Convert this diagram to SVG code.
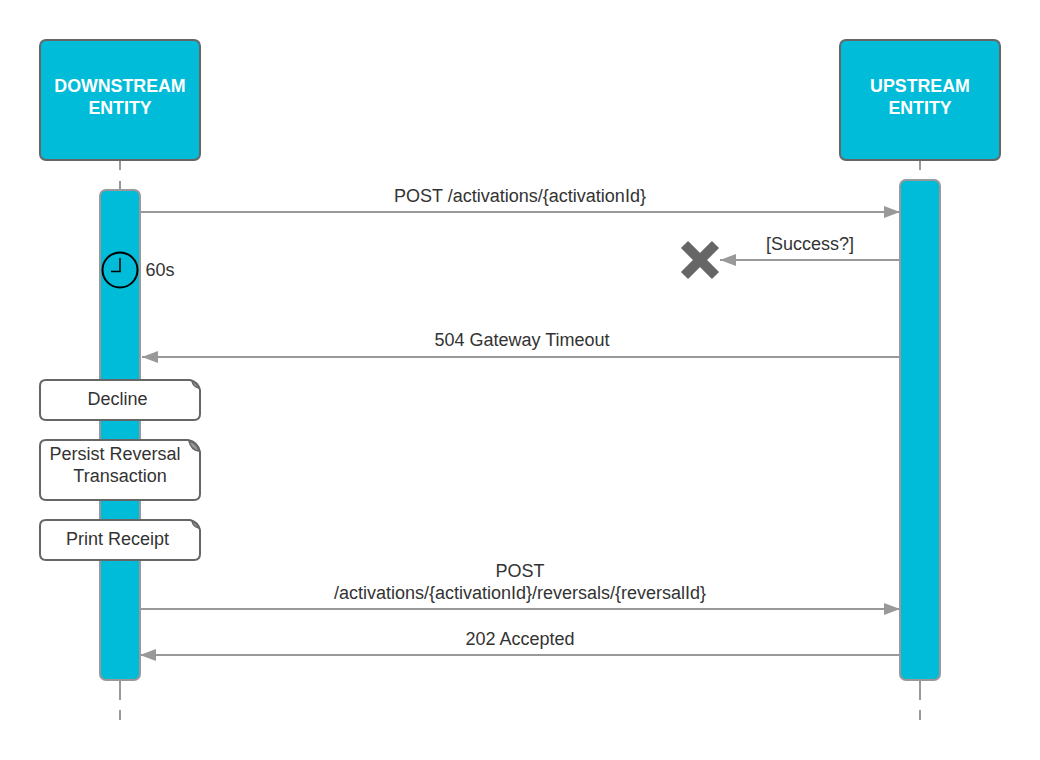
<svg xmlns="http://www.w3.org/2000/svg" width="1040" height="760" viewBox="0 0 1040 760">
<style>
text{font-family:"Liberation Sans",Arial,sans-serif;font-size:18px;fill:#333;text-anchor:middle}
.head{fill:#00bcd8;stroke:#666;stroke-width:2}
.hl{font-weight:bold;font-size:17.800px;fill:#fff}
.act{fill:#00bcd8;stroke:#999;stroke-width:2}
.note{fill:#fff;stroke:#666;stroke-width:2}
.fold{fill:#999;stroke:#666;stroke-width:1.500}
.life{stroke:#999;stroke-width:2;fill:none}
.msg{stroke:#999;stroke-width:2;fill:none}
.ah{fill:#999;stroke:none}
</style>
<defs>
<marker id="a" markerUnits="userSpaceOnUse" markerWidth="18" markerHeight="14" refX="16" refY="7" orient="auto"><path class="ah" d="M0 1L16 7L0 13z"/></marker>
</defs>
<g id="connectors">
<path class="life" d="M120 161V170M120 181V190M120 681V700M120 710V720"/>
<path class="life" d="M920 161V170M920 681V700M920 710V720"/>
<path class="msg" d="M141 212H900" marker-end="url(#a)"/>
<path class="msg" d="M899 260H720" marker-end="url(#a)"/>
<path class="msg" d="M899 357H142" marker-end="url(#a)"/>
<path class="msg" d="M141 609H900" marker-end="url(#a)"/>
<path class="msg" d="M899 655H140" marker-end="url(#a)"/>
</g>
<g id="downstream-entity"><rect class="head" x="40" y="40" width="160" height="120" rx="6"/><text class="hl" x="120" y="92">DOWNSTREAM</text><text class="hl" x="120" y="113.500">ENTITY</text></g>
<g id="upstream-entity"><rect class="head" x="840" y="40" width="160" height="120" rx="6"/><text class="hl" x="920" y="92">UPSTREAM</text><text class="hl" x="920" y="113.500">ENTITY</text></g>
<g id="downstream-activation"><rect class="act" x="100" y="190" width="40" height="490" rx="6"/></g>
<g id="upstream-activation"><rect class="act" x="900" y="180" width="40" height="500" rx="6"/></g>
<g id="timer"><circle cx="120" cy="270" r="17.500" fill="none" stroke="#000" stroke-width="2"/><path d="M120 258V271.500H111" fill="none" stroke="#000" stroke-width="1.500"/><text x="160" y="275.500">60s</text></g>
<g id="lost-marker"><path d="M684.500 244.500L715.500 275.500M715.500 244.500L684.500 275.500" stroke="#666" stroke-width="10" fill="none"/></g>
<g id="note-decline"><path class="note" d="M46 380H190Q198 382 200 390V414Q200 420 194 420H46Q40 420 40 414V386Q40 380 46 380Z"/><path class="fold" d="M192 381Q197 383 199 388Q193 387 192 381Z"/><text x="117.500" y="404.500">Decline</text></g>
<g id="note-persist"><path class="note" d="M46 440H188Q198 442 200 452V494Q200 500 194 500H46Q40 500 40 494V446Q40 440 46 440Z"/><path class="fold" d="M189 441Q197 443 199 451Q191 450 189 441Z"/><text x="115" y="459.500">Persist Reversal</text><text x="120" y="481.500">Transaction</text></g>
<g id="note-print"><path class="note" d="M46 520H190Q198 522 200 530V554Q200 560 194 560H46Q40 560 40 554V526Q40 520 46 520Z"/><path class="fold" d="M192 521Q197 523 199 528Q193 527 192 521Z"/><text x="117.500" y="544.500">Print Receipt</text></g>
<g id="labels">
<text x="520" y="201.500">POST /activations/{activationId}</text>
<text x="810" y="249.500">[Success?]</text>
<text x="522" y="345.500">504 Gateway Timeout</text>
<text x="520" y="576.500">POST</text>
<text x="520" y="598.500">/activations/{activationId}/reversals/{reversalId}</text>
<text x="520" y="644.500">202 Accepted</text>
</g>
</svg>
